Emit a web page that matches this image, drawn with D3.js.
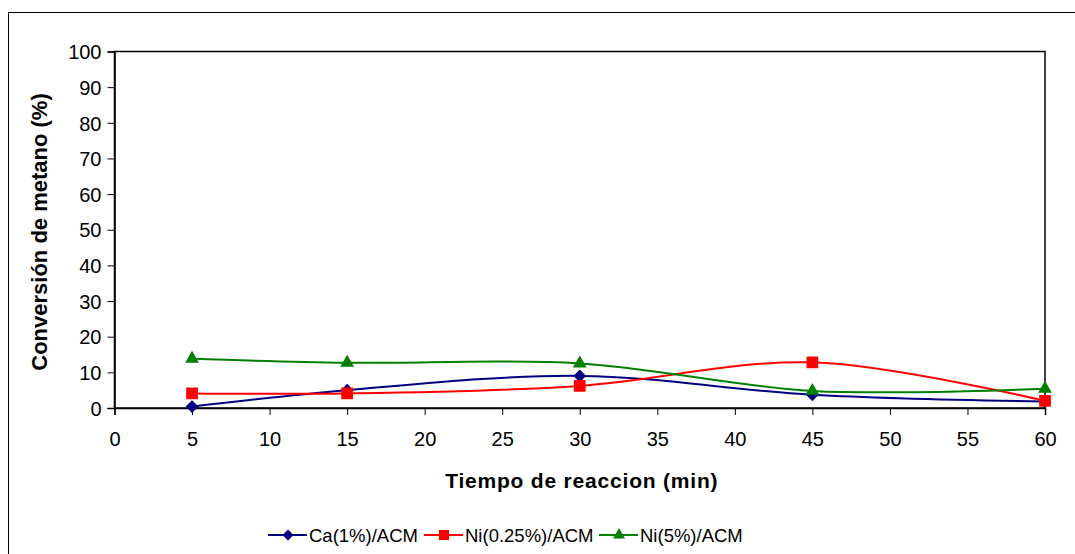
<!DOCTYPE html>
<html>
<head>
<meta charset="utf-8">
<script src="https://cdn.jsdelivr.net/npm/d3@7"></script>
<style>
  body { margin: 0; background: #fff; }
  text { font-family: "Liberation Sans", Arial, sans-serif; fill: #000; }
</style>
</head>
<body>
<div class="chart"></div>
<script>
const tiempo = [5, 15, 30, 45, 60]
const ca1 = [0.4, 5, 9, 3.7, 1.8]
const ni025 = [4.1, 4.1, 6.2, 12.8, 2]
const ni5 = [13.8, 12.7, 12.5, 4.8, 5.4]

const series = [
  { name: 'Ca(1%)/ACM', values: ca1, color: '#000080', shape: 'diamond' },
  { name: 'Ni(0.25%)/ACM', values: ni025, color: '#ff0000', shape: 'square' },
  { name: 'Ni(5%)/ACM', values: ni5, color: '#008000', shape: 'triangle' }
]

const xTicks = d3.range(0, 61, 5)
const yTicks = d3.range(0, 101, 10)

const width = 1075, height = 554
const plot = { left: 114.5, top: 51.5, right: 1045, bottom: 408 }

const svg = d3.select('.chart').append('svg')
  .attr('width', width)
  .attr('height', height)

// outer chart border (runs off right and bottom)
svg.append('rect')
  .attr('x', 8.5).attr('y', 12.5)
  .attr('width', 1100).attr('height', 600)
  .attr('fill', 'none').attr('stroke', '#000').attr('stroke-width', 1)

const x = d3.scaleLinear().domain([0, 60]).range([plot.left, plot.right])
const y = d3.scaleLinear().domain([0, 100]).range([plot.bottom, plot.top])

// plot area frame
svg.append('rect')
  .attr('x', plot.left).attr('y', plot.top)
  .attr('width', plot.right - plot.left).attr('height', plot.bottom - plot.top)
  .attr('fill', 'none').attr('stroke', '#000').attr('stroke-width', 1.5)

const xAxis = svg.append('g')
  .attr('transform', `translate(0,${plot.bottom})`)
  .call(d3.axisBottom(x).tickValues(xTicks).tickSize(7).tickPadding(17).tickFormat(d3.format('d')))
xAxis.select('.domain').attr('stroke-width', 1.5)
xAxis.selectAll('text').style('font-size', '20px')

const yAxis = svg.append('g')
  .attr('transform', `translate(${plot.left},0)`)
  .call(d3.axisLeft(y).tickValues(yTicks).tickSize(7).tickPadding(6).tickFormat(d3.format('d')))
yAxis.select('.domain').attr('stroke-width', 1.5)
yAxis.selectAll('text').style('font-size', '20px').attr('dy', '0.36em')

svg.append('text')
  .attr('x', (plot.left + plot.right) / 2 + 2)
  .attr('y', 488)
  .attr('text-anchor', 'middle')
  .style('font-size', '21px').style('font-weight', 'bold').style('letter-spacing', '0.8px')
  .text('Tiempo de reaccion (min)')

svg.append('text')
  .attr('transform', `translate(47,232) rotate(-90)`)
  .attr('text-anchor', 'middle')
  .style('font-size', '22px').style('font-weight', 'bold')
  .text('Conversión de metano (%)')

const line = d3.line()
  .x((d, i) => x(tiempo[i]))
  .y(d => y(d))
  .curve(d3.curveCatmullRom.alpha(0.5))

// marker shapes: diamond is a square turned 45 degrees
const marker = (shape, k) => {
  if (shape === 'diamond') return { d: d3.symbol().type(d3.symbolSquare).size(82 * k)(), rot: 45 }
  if (shape === 'square') return { d: d3.symbol().type(d3.symbolSquare).size(137 * k)(), rot: 0 }
  return { d: d3.symbol().type(d3.symbolTriangle).size(82 * k)(), rot: 0 }
}

series.forEach(s => {
  svg.append('path')
    .attr('d', line(s.values))
    .attr('fill', 'none')
    .attr('stroke', s.color)
    .attr('stroke-width', 2)

  const m = marker(s.shape, 1)
  svg.selectAll(null)
    .data(s.values)
    .enter()
    .append('path')
    .attr('d', m.d)
    .attr('transform', (d, i) => `translate(${x(tiempo[i])},${y(d)}) rotate(${m.rot})`)
    .attr('fill', s.color)
})

// legend
const legendX = [268, 424, 599]
const legend = svg.append('g')
series.forEach((s, i) => {
  const g = legend.append('g').attr('transform', `translate(${legendX[i]},535)`)
  g.append('line').attr('x1', 0).attr('x2', 39).attr('y1', 0).attr('y2', 0)
    .attr('stroke', s.color).attr('stroke-width', 2)
  const m = marker(s.shape, 0.75)
  g.append('path')
    .attr('d', m.d)
    .attr('transform', `translate(20,0) rotate(${m.rot})`)
    .attr('fill', s.color)
  g.append('text')
    .attr('x', 41).attr('y', 0).attr('dy', '0.36em')
    .style('font-size', '18.5px')
    .text(s.name)
})
</script>
</body>
</html>
